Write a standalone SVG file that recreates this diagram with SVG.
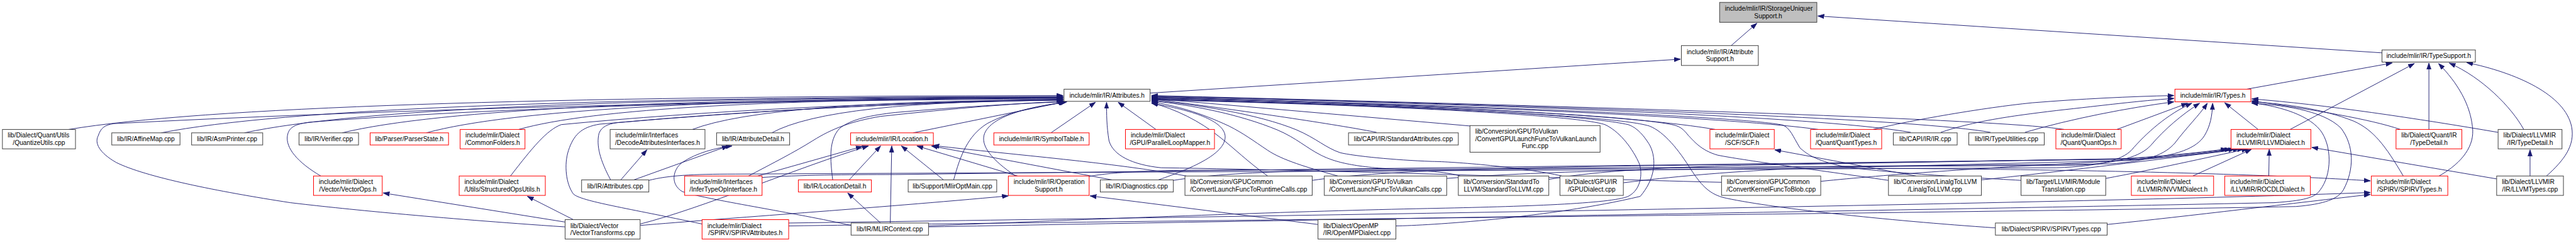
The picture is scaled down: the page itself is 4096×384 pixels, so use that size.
<svg xmlns="http://www.w3.org/2000/svg" width="4096" height="384" viewBox="0 0 4096 384">
<defs>
<marker id="ah" markerUnits="userSpaceOnUse" markerWidth="14" markerHeight="10" refX="13" refY="5" orient="auto"><path d="M0,0.5 L13,5 L0,9.5z" fill="#191970" stroke="#191970" stroke-width="1"/></marker>
<style>
.n rect{fill:#fff;stroke:#404040;stroke-width:1.3}
.r rect{stroke:#ff0000}
.root rect{fill:#bfbfbf}
text{font-family:"Liberation Sans",Arial,Helvetica,sans-serif;font-size:13.33px;fill:#000}
.m{text-anchor:middle}
#edges path{fill:none;stroke:#191970;stroke-width:1.2;marker-end:url(#ah)}
</style>
</defs>
<rect width="4096" height="384" fill="#fff"/>
<g transform="scale(0.76935)">
<g id="edges">
<path d="M3578,94 L3631,48"/>
<path d="M4923,109 L3757,33"/>
<path d="M2377,192 L3473,122"/>
<path d="M4643,184 L4944,130"/>
<path d="M4733,267 L4990,131"/>
<path d="M5020,267 L5020,130"/>
<path d="M5041,363 C5090,335 5115,300 5110,262 C5105,215 5080,172 5040,131"/>
<path d="M5216,267 C5190,220 5130,160 5062,130"/>
<path d="M5263,363 C5300,330 5322,300 5315,262 C5302,195 5200,150 5098,129"/>
<path d="M5229,363 L5229,309"/>
<path d="M5160,369 L4778,304"/>
<path d="M5163,273 C5000,245 4800,215 4654,204"/>
<path d="M4961,267 C4900,246 4780,226 4654,208"/>
<path d="M4967,363 C4930,300 4905,268 4865,250 C4800,224 4720,214 4654,210"/>
<path d="M1919,468 C2600,455 4000,433 4700,418 C4760,414 4785,408 4795,392 C4820,360 4820,300 4795,268 C4765,232 4700,218 4654,212"/>
<path d="M1630,466 C2300,456 4000,440 4745,426 C4805,421 4832,410 4843,392 C4866,350 4866,300 4838,264 C4800,226 4710,216 4654,213"/>
<path d="M4355,463 C4520,446 4750,418 4899,401"/>
<path d="M1630,460 C2500,448 4300,420 4899,397"/>
<path d="M2990,368 C3200,352 3500,347 3800,347 C4300,348 4700,360 4899,373"/>
<path d="M3871,267 C3950,248 4100,222 4200,212 C4300,204 4400,199 4493,197"/>
<path d="M4011,273 C4080,250 4150,240 4250,228 C4350,217 4420,208 4493,203"/>
<path d="M4185,273 C4280,245 4400,222 4493,210"/>
<path d="M4375,267 L4521,213"/>
<path d="M1341,372 C1380,362 1430,359 1520,359 L4250,346 C4340,343 4385,330 4405,310 C4435,275 4480,235 4530,213"/>
<path d="M2251,364 C2300,354 2400,351 2500,351 L4290,341 C4380,337 4425,322 4445,300 C4475,265 4510,236 4546,213"/>
<path d="M2425,372 C2500,360 2600,355 2700,353 L4360,338 C4440,333 4475,318 4495,295 C4520,262 4545,238 4562,213"/>
<path d="M1575,366 C1650,361 1750,360 1850,360 L4420,328 C4500,322 4540,305 4556,280 C4568,260 4572,240 4573,213"/>
<path d="M4667,267 L4598,212"/>
<path d="M2712,372 C2850,352 3100,346 3400,342 L4380,328 C4480,322 4560,313 4603,307"/>
<path d="M3201,370 C3300,352 3450,345 3600,341 L4400,327 C4490,321 4570,313 4611,307"/>
<path d="M3355,377 C3450,365 3560,355 3700,348 L4400,331 C4500,323 4580,314 4619,307"/>
<path d="M3763,374 C3900,360 4100,346 4300,336 C4450,328 4565,316 4628,307"/>
<path d="M4095,371 C4250,355 4450,330 4637,307"/>
<path d="M4352,368 C4450,350 4560,325 4646,307"/>
<path d="M4532,363 L4653,308"/>
<path d="M4689,363 L4690,308"/>
<path d="M142,267 Q553,199 2197,197"/>
<path d="M333,274 Q706,201 2197,199"/>
<path d="M505,274 Q844,201 2197,200"/>
<path d="M707,274 Q1005,202 2197,201"/>
<path d="M881,274 Q1145,202 2197,202"/>
<path d="M1072,267 Q1297,203 2197,203"/>
<path d="M663,363 C615,335 590,305 594,280 C597,262 610,256 640,252 Q1200,208 2197,204"/>
<path d="M1055,363 C1100,305 1130,268 1160,257 Q1600,215 2197,205"/>
<path d="M1262,371 C1240,330 1232,300 1238,275 C1243,262 1255,256 1275,253 Q1700,215 2197,206"/>
<path d="M1431,267 Q1584,208 2197,206"/>
<path d="M1595,274 Q1716,208 2197,207"/>
<path d="M1547,363 C1600,335 1640,315 1680,290 C1720,265 1760,250 1820,240 Q2050,215 2199,209"/>
<path d="M1721,371 C1716,330 1712,290 1735,265 C1760,245 1800,238 1850,232 Q2050,215 2200,210"/>
<path d="M1887,274 L2201,210"/>
<path d="M1971,371 C1985,320 2000,280 2040,255 C2090,228 2150,218 2203,211"/>
<path d="M2099,363 C2050,330 2025,300 2035,275 C2050,240 2120,222 2205,210"/>
<path d="M1168,468 C900,450 700,430 600,418 C450,395 300,365 240,335 C205,315 195,295 203,280 C208,265 215,258 235,255 Q1000,215 2197,200"/>
<path d="M1451,462 C1300,430 1200,415 1185,400 C1170,380 1165,340 1175,310 C1185,280 1200,262 1240,256 Q1700,215 2197,205"/>
<path d="M2172,274 L2264,211"/>
<path d="M3558,376 C3300,370 2800,352 2400,346 C2340,340 2300,320 2292,290 C2287,260 2287,235 2287,211"/>
<path d="M2389,267 L2311,211"/>
<path d="M2394,371 C2470,345 2535,315 2532,280 C2528,245 2450,225 2380,213"/>
<path d="M2765,363 C2700,345 2650,330 2620,310 C2590,290 2570,275 2540,260 C2480,232 2430,218 2380,210"/>
<path d="M2620,363 C2580,335 2550,305 2520,282 C2480,250 2430,225 2380,212"/>
<path d="M3018,363 C2990,355 2960,353 2900,350 C2800,345 2760,335 2730,320 C2700,305 2680,285 2640,268 C2560,235 2460,216 2380,208"/>
<path d="M3228,363 C3150,345 3000,333 2960,333 C2880,330 2800,322 2770,315 C2740,305 2720,285 2680,268 C2600,235 2470,215 2380,207"/>
<path d="M2845,273 C2780,260 2600,232 2380,204"/>
<path d="M3040,260 L2380,203"/>
<path d="M1919,466 C2300,450 2700,435 2950,430 C3150,426 3330,420 3365,405 C3395,390 3395,350 3386,333 C3370,300 3345,270 3317,257 C3250,235 2800,215 2380,206"/>
<path d="M2885,466 C2950,465 3200,450 3390,405 C3420,370 3425,330 3410,300 C3395,275 3380,262 3365,257 C3250,232 2800,214 2380,205"/>
<path d="M4124,470 C3900,455 3650,428 3560,407 C3530,398 3515,380 3495,350 C3470,310 3440,272 3409,260 C3330,235 2800,216 2380,204"/>
<path d="M3903,372 C3750,350 3600,330 3550,320 C3515,310 3500,290 3490,280 C3480,268 3475,262 3460,258 C3350,233 2800,214 2380,203"/>
<path d="M4177,372 C4050,365 3880,355 3808,343 C3750,330 3735,318 3720,305 C3705,280 3700,265 3685,258 C3600,240 3000,215 2380,202"/>
<path d="M3545,267 Q3300,225 2380,201"/>
<path d="M3758,267 Q3500,232 2380,200"/>
<path d="M3949,273 Q3700,230 2380,199"/>
<path d="M4114,273 Q3900,235 2380,198"/>
<path d="M4266,267 Q4100,240 2380,197"/>
<path d="M1168,458 L792,398"/>
<path d="M1185,453 L1090,405"/>
<path d="M1323,465 C1500,450 1800,430 2084,404"/>
<path d="M1323,462 C1450,430 1650,345 1795,301"/>
<path d="M1566,363 L1782,302"/>
<path d="M1283,371 L1337,309"/>
<path d="M1310,371 L1505,301"/>
<path d="M1759,465 C1650,440 1450,410 1410,395 C1385,380 1390,350 1410,335 C1440,315 1480,305 1513,301"/>
<path d="M1820,460 L1752,398"/>
<path d="M1840,460 L1843,301"/>
<path d="M1755,371 L1820,301"/>
<path d="M1950,371 L1863,301"/>
<path d="M2103,363 L1895,301"/>
<path d="M2298,371 L1925,301"/>
<path d="M2452,363 C2300,335 2100,320 1928,300"/>
<path d="M2724,463 L2253,404"/>
<path d="M3960,363 L3668,309"/>
</g>

<g id="n_storageuniquer" class="n root"><rect x="3554" y="5" width="201" height="41"/><text x="3565" y="22.5">include/mlir/IR/StorageUniquer</text><text class="m" x="3654.5" y="37.5">Support.h</text></g>
<g id="n_attributesupport" class="n"><rect x="3475" y="94" width="159" height="41"/><text x="3486" y="111.5">include/mlir/IR/Attribute</text><text class="m" x="3554.5" y="126.5">Support.h</text></g>
<g id="n_typesupport" class="n"><rect x="4923" y="103" width="193" height="25"/><text class="m" x="5019.5" y="120.2">include/mlir/IR/TypeSupport.h</text></g>
<g id="n_attributes_h" class="n"><rect x="2199" y="184" width="178" height="25"/><text class="m" x="2288" y="201.7">include/mlir/IR/Attributes.h</text></g>
<g id="n_types_h" class="n r"><rect x="4495" y="184" width="157" height="26"/><text class="m" x="4573.5" y="202">include/mlir/IR/Types.h</text></g>

<g id="n_quantizeutils" class="n"><rect x="5" y="267" width="151" height="40"/><text x="16" y="284">lib/Dialect/Quant/Utils</text><text class="m" x="80.5" y="299">/QuantizeUtils.cpp</text></g>
<g id="n_affinemap" class="n"><rect x="231" y="274" width="141" height="25"/><text class="m" x="301.5" y="291.2">lib/IR/AffineMap.cpp</text></g>
<g id="n_asmprinter" class="n"><rect x="396" y="274" width="147" height="25"/><text class="m" x="469.5" y="291.2">lib/IR/AsmPrinter.cpp</text></g>
<g id="n_verifier" class="n"><rect x="618" y="274" width="123" height="25"/><text class="m" x="679.5" y="291.2">lib/IR/Verifier.cpp</text></g>
<g id="n_parserstate" class="n r"><rect x="765" y="274" width="162" height="25"/><text class="m" x="846" y="291.2">lib/Parser/ParserState.h</text></g>
<g id="n_commonfolders" class="n r"><rect x="951" y="267" width="134" height="40"/><text x="962" y="284">include/mlir/Dialect</text><text class="m" x="1018" y="299">/CommonFolders.h</text></g>
<g id="n_decode" class="n"><rect x="1261" y="267" width="196" height="40"/><text x="1272" y="284">include/mlir/Interfaces</text><text class="m" x="1359" y="299">/DecodeAttributesInterfaces.h</text></g>
<g id="n_attributedetail" class="n"><rect x="1481" y="274" width="151" height="25"/><text class="m" x="1556.5" y="291.2">lib/IR/AttributeDetail.h</text></g>
<g id="n_location_h" class="n r"><rect x="1758" y="274" width="171" height="25"/><text class="m" x="1843.5" y="291.2">include/mlir/IR/Location.h</text></g>
<g id="n_symboltable" class="n r"><rect x="2054" y="274" width="197" height="25"/><text class="m" x="2152.5" y="291.2">include/mlir/IR/SymbolTable.h</text></g>
<g id="n_parallelloopmapper" class="n r"><rect x="2326" y="267" width="184" height="40"/><text x="2337" y="284">include/mlir/Dialect</text><text class="m" x="2418" y="299">/GPU/ParallelLoopMapper.h</text></g>
<g id="n_standardattributes" class="n"><rect x="2787" y="274" width="227" height="25"/><text class="m" x="2900.5" y="291.2">lib/CAPI/IR/StandardAttributes.cpp</text></g>
<g id="n_gpulaunchvulkan" class="n"><rect x="3038" y="259" width="269" height="55"/><text x="3049" y="276">lib/Conversion/GPUToVulkan</text><text x="3049" y="291">/ConvertGPULaunchFuncToVulkanLaunch</text><text class="m" x="3172.5" y="306">Func.cpp</text></g>
<g id="n_scf" class="n r"><rect x="3534" y="267" width="133" height="40"/><text x="3545" y="284">include/mlir/Dialect</text><text class="m" x="3600.5" y="299">/SCF/SCF.h</text></g>
<g id="n_quanttypes" class="n r"><rect x="3742" y="267" width="147" height="40"/><text x="3753" y="284">include/mlir/Dialect</text><text class="m" x="3815.5" y="299">/Quant/QuantTypes.h</text></g>
<g id="n_ir_cpp" class="n"><rect x="3913" y="274" width="132" height="25"/><text class="m" x="3979" y="291.2">lib/CAPI/IR/IR.cpp</text></g>
<g id="n_typeutilities" class="n"><rect x="4069" y="274" width="156" height="25"/><text class="m" x="4147" y="291.2">lib/IR/TypeUtilities.cpp</text></g>
<g id="n_quantops" class="n r"><rect x="4249" y="267" width="135" height="40"/><text x="4260" y="284">include/mlir/Dialect</text><text class="m" x="4316.5" y="299">/Quant/QuantOps.h</text></g>
<g id="n_llvmdialect" class="n r"><rect x="4611" y="267" width="165" height="40"/><text x="4622" y="284">include/mlir/Dialect</text><text class="m" x="4693.5" y="299">/LLVMIR/LLVMDialect.h</text></g>
<g id="n_quanttypedetail" class="n r"><rect x="4952" y="267" width="136" height="40"/><text x="4963" y="284">lib/Dialect/Quant/IR</text><text class="m" x="5020" y="299">/TypeDetail.h</text></g>
<g id="n_llvmtypedetail" class="n"><rect x="5163" y="267" width="132" height="40"/><text x="5174" y="284">lib/Dialect/LLVMIR</text><text class="m" x="5229" y="299">/IR/TypeDetail.h</text></g>

<g id="n_vectorops" class="n r"><rect x="648" y="363" width="142" height="40"/><text x="659" y="380">include/mlir/Dialect</text><text class="m" x="719" y="395">/Vector/VectorOps.h</text></g>
<g id="n_structuredopsutils" class="n r"><rect x="949" y="363" width="178" height="40"/><text x="960" y="380">include/mlir/Dialect</text><text class="m" x="1038" y="395">/Utils/StructuredOpsUtils.h</text></g>
<g id="n_attributes_cpp" class="n"><rect x="1202" y="371" width="139" height="25"/><text class="m" x="1271.5" y="388.2">lib/IR/Attributes.cpp</text></g>
<g id="n_infertype" class="n r"><rect x="1415" y="363" width="160" height="40"/><text x="1426" y="380">include/mlir/Interfaces</text><text class="m" x="1495" y="395">/InferTypeOpInterface.h</text></g>
<g id="n_locationdetail" class="n r"><rect x="1650" y="371" width="151" height="25"/><text class="m" x="1725.5" y="388.2">lib/IR/LocationDetail.h</text></g>
<g id="n_mliroptmain" class="n"><rect x="1877" y="371" width="183" height="25"/><text class="m" x="1968.5" y="388.2">lib/Support/MlirOptMain.cpp</text></g>
<g id="n_operationsupport" class="n r"><rect x="2084" y="363" width="167" height="40"/><text x="2095" y="380">include/mlir/IR/Operation</text><text class="m" x="2167.5" y="395">Support.h</text></g>
<g id="n_diagnostics" class="n"><rect x="2274" y="371" width="151" height="25"/><text class="m" x="2349.5" y="388.2">lib/IR/Diagnostics.cpp</text></g>
<g id="n_runtimecalls" class="n"><rect x="2449" y="363" width="263" height="40"/><text x="2460" y="380">lib/Conversion/GPUCommon</text><text class="m" x="2580.5" y="395">/ConvertLaunchFuncToRuntimeCalls.cpp</text></g>
<g id="n_vulkancalls" class="n"><rect x="2737" y="363" width="253" height="40"/><text x="2748" y="380">lib/Conversion/GPUToVulkan</text><text class="m" x="2863.5" y="395">/ConvertLaunchFuncToVulkanCalls.cpp</text></g>
<g id="n_standardtollvm" class="n"><rect x="3014" y="363" width="187" height="40"/><text x="3025" y="380">lib/Conversion/StandardTo</text><text class="m" x="3107.5" y="395">LLVM/StandardToLLVM.cpp</text></g>
<g id="n_gpudialect" class="n"><rect x="3224" y="363" width="131" height="40"/><text x="3235" y="380">lib/Dialect/GPU/IR</text><text class="m" x="3289.5" y="395">/GPUDialect.cpp</text></g>
<g id="n_kernelfunctoblob" class="n"><rect x="3558" y="363" width="205" height="40"/><text x="3569" y="380">lib/Conversion/GPUCommon</text><text class="m" x="3660.5" y="395">/ConvertKernelFuncToBlob.cpp</text></g>
<g id="n_linalgtollvm" class="n"><rect x="3903" y="363" width="192" height="40"/><text x="3914" y="380">lib/Conversion/LinalgToLLVM</text><text class="m" x="3999" y="395">/LinalgToLLVM.cpp</text></g>
<g id="n_moduletranslation" class="n"><rect x="4177" y="363" width="175" height="40"/><text x="4188" y="380">lib/Target/LLVMIR/Module</text><text class="m" x="4264.5" y="395">Translation.cpp</text></g>
<g id="n_nvvm" class="n r"><rect x="4405" y="363" width="170" height="40"/><text x="4416" y="380">include/mlir/Dialect</text><text class="m" x="4490" y="395">/LLVMIR/NVVMDialect.h</text></g>
<g id="n_rocdl" class="n r"><rect x="4598" y="363" width="177" height="40"/><text x="4609" y="380">include/mlir/Dialect</text><text class="m" x="4686.5" y="395">/LLVMIR/ROCDLDialect.h</text></g>
<g id="n_spirvtypes_h" class="n r"><rect x="4901" y="363" width="158" height="40"/><text x="4912" y="380">include/mlir/Dialect</text><text class="m" x="4980" y="395">/SPIRV/SPIRVTypes.h</text></g>
<g id="n_llvmtypes" class="n"><rect x="5160" y="363" width="138" height="40"/><text x="5171" y="380">lib/Dialect/LLVMIR</text><text class="m" x="5229" y="395">/IR/LLVMTypes.cpp</text></g>

<g id="n_vectortransforms" class="n"><rect x="1168" y="453" width="155" height="40"/><text x="1179" y="470">lib/Dialect/Vector</text><text class="m" x="1245.5" y="485">/VectorTransforms.cpp</text></g>
<g id="n_spirvattributes" class="n r"><rect x="1451" y="453" width="179" height="40"/><text x="1462" y="470">include/mlir/Dialect</text><text class="m" x="1540.5" y="485">/SPIRV/SPIRVAttributes.h</text></g>
<g id="n_mlircontext" class="n"><rect x="1759" y="460" width="160" height="25"/><text class="m" x="1839" y="477.2">lib/IR/MLIRContext.cpp</text></g>
<g id="n_openmp" class="n"><rect x="2724" y="453" width="161" height="40"/><text x="2735" y="470">lib/Dialect/OpenMP</text><text class="m" x="2804.5" y="485">/IR/OpenMPDialect.cpp</text></g>
<g id="n_spirvtypes_cpp" class="n"><rect x="4124" y="460" width="231" height="25"/><text class="m" x="4239.5" y="477.2">lib/Dialect/SPIRV/SPIRVTypes.cpp</text></g>
</g>
</svg>
